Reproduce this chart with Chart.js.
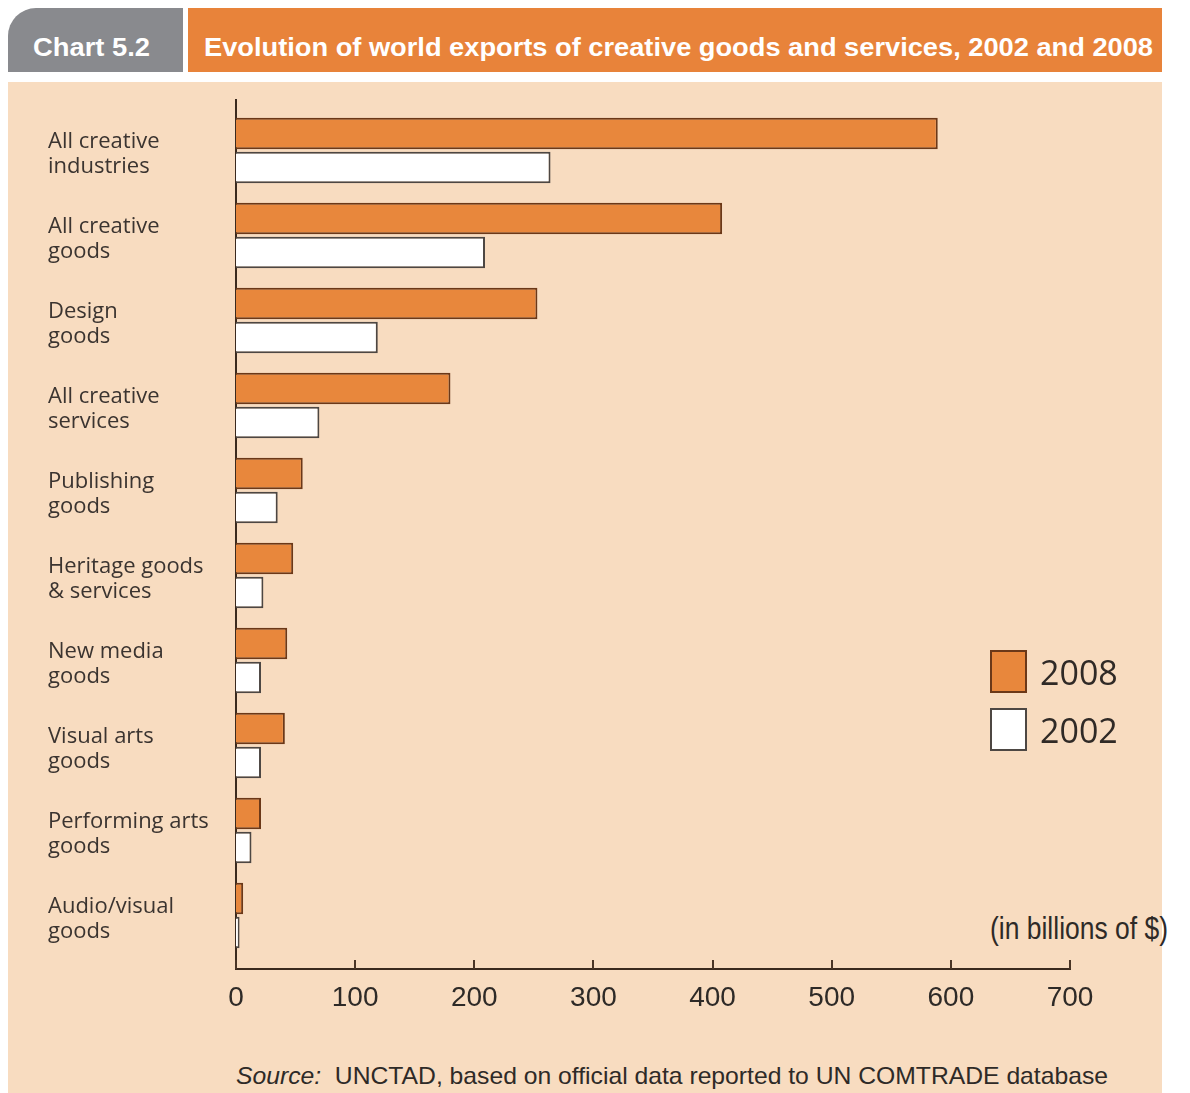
<!DOCTYPE html>
<html><head><meta charset="utf-8">
<script src="https://cdn.jsdelivr.net/npm/chart.js@4.4.0/dist/chart.umd.min.js"></script>
<style>
html,body{margin:0;padding:0;background:#fff;}
#wrap{position:relative;width:1190px;height:1093px;overflow:hidden;background:#fff;}
#tab{position:absolute;left:8px;top:8px;width:175px;height:64px;background:#898a8e;border-top-left-radius:28px;}
#hbar{position:absolute;left:188px;top:8px;width:974px;height:64px;background:#e8833a;}
#panel{position:absolute;left:8px;top:82px;width:1154px;height:1011px;background:#f8dcc0;}
.txt{position:absolute;white-space:nowrap;line-height:1;transform-origin:0 0;}
.hd{color:#fff;font-family:'Liberation Sans',Arial,sans-serif;font-weight:bold;}
.nar{font-family:'Liberation Sans',Arial,sans-serif;color:#2e2a27;}
canvas{position:absolute;left:0;top:0;}
</style></head>
<body>
<div id="wrap">
  <div id="tab"></div>
  <div id="hbar"></div>
  <div id="panel"></div>
  <span id="chartNo" class="txt hd">Chart 5.2</span>
  <span id="chartTitle" class="txt hd">Evolution of world exports of creative goods and services, 2002 and 2008</span>
  <span id="unit" class="txt nar">(in billions of $)</span>
  <span id="source" class="txt nar"><i>Source:</i>&nbsp; UNCTAD, based on official data reported to UN COMTRADE database</span>
  <canvas id="c" width="1190" height="1093"></canvas>
</div>
<script>
// ---- data ----
const categories = [
  ["All creative","industries"],
  ["All creative","goods"],
  ["Design","goods"],
  ["All creative","services"],
  ["Publishing","goods"],
  ["Heritage goods","& services"],
  ["New media","goods"],
  ["Visual arts","goods"],
  ["Performing arts","goods"],
  ["Audio/visual","goods"]
];
const exports2008 = [589, 408, 253, 180, 56, 48, 43, 41, 21, 6];
const exports2002 = [264, 209, 119, 70, 35, 23, 21, 21, 13, 3];
const seriesLabels = ["2008", "2002"];
const xTickValues = [0, 100, 200, 300, 400, 500, 600, 700];

// ---- text placement helpers ----
function place(id, left, baseline, targetWidth, size) {
  const el = document.getElementById(id);
  el.style.fontSize = size + 'px';
  const w = el.getBoundingClientRect().width;
  el.style.transform = 'scaleX(' + (targetWidth / w) + ')';
  el.style.left = left + 'px';
  el.style.top = (baseline - 0.8465 * size) + 'px';
}
place('chartNo', 33, 56, 117, 25);
place('chartTitle', 204, 56, 949, 25);
place('unit', 990, 939, 178, 31);
place('source', 236, 1084, 872, 24);

// ---- plugins ----
const tickMarks = {
  id: 'tickMarks',
  afterDraw(chart) {
    const ctx = chart.ctx, xs = chart.scales.x;
    ctx.save();
    ctx.strokeStyle = '#4a3526';
    ctx.lineWidth = 2;
    xs.ticks.forEach(t => {
      const px = Math.round(xs.getPixelForValue(t.value));
      ctx.beginPath();
      ctx.moveTo(px, xs.top);
      ctx.lineTo(px, xs.top - 9);
      ctx.stroke();
    });
    ctx.restore();
  }
};
const sideLegend = {
  id: 'sideLegend',
  afterDraw(chart) {
    const ctx = chart.ctx;
    ctx.save();
    chart.data.datasets.forEach((ds, i) => {
      const y = 650 + i * 58;
      ctx.fillStyle = ds.backgroundColor;
      ctx.fillRect(990, y, 37, 43);
      ctx.strokeStyle = ds.borderColor;
      ctx.lineWidth = 2;
      ctx.strokeRect(991, y + 1, 35, 41);
      ctx.fillStyle = '#302a26';
      ctx.font = '34px "Open Sans"';
      ctx.textBaseline = 'alphabetic';
      ctx.fillText(ds.label, 1040, y + 35);
    });
    ctx.restore();
  }
};

// ---- chart ----
new Chart(document.getElementById('c'), {
  type: 'bar',
  data: {
    datasets: [
      { label: seriesLabels[0], data: exports2008.map((v, i) => ({x: v, y: i})),
        backgroundColor: '#e8873c', borderColor: '#6b3818', borderWidth: 2 },
      { label: seriesLabels[1], data: exports2002.map((v, i) => ({x: v, y: i})),
        backgroundColor: '#ffffff', borderColor: '#4d4743', borderWidth: 2 }
    ]
  },
  options: {
    indexAxis: 'y',
    responsive: false,
    animation: false,
    devicePixelRatio: 1,
    categoryPercentage: 0.8,
    barPercentage: 0.93,
    layout: { padding: { top: 100, left: 48, right: 120, bottom: 64 } },
    plugins: { legend: { display: false }, tooltip: { enabled: false } },
    scales: {
      y: {
        type: 'linear',
        reverse: true,
        offset: false,
        bounds: 'data',
        min: -0.594,
        max: 9.629,
        afterFit(s) { s.width = 188; },
        afterBuildTicks(s) { s.ticks = categories.map((_, i) => ({value: i})); },
        grid: { display: false },
        border: { display: true, color: '#3b2a1e', width: 2 },
        ticks: {
          autoSkip: false,
          crossAlign: 'far',
          labelOffset: 4,
          color: '#3b3430',
          font: { family: '"Open Sans"', size: 22, lineHeight: 1.15 },
          callback: v => (Number.isInteger(v) && categories[v]) ? categories[v] : ''
        }
      },
      x: {
        type: 'linear',
        min: 0,
        max: 700,
        offset: false,
        afterFit(s) { s.height = 60; },
        afterBuildTicks(s) { s.ticks = xTickValues.map(v => ({value: v})); },
        grid: { display: false, drawTicks: false },
        border: { display: true, color: '#3b2a1e', width: 2 },
        ticks: {
          padding: 12,
          color: '#2e2a27',
          font: { family: '"Liberation Sans"', size: 28 }
        }
      }
    }
  },
  plugins: [tickMarks, sideLegend]
});
</script>
</body></html>
